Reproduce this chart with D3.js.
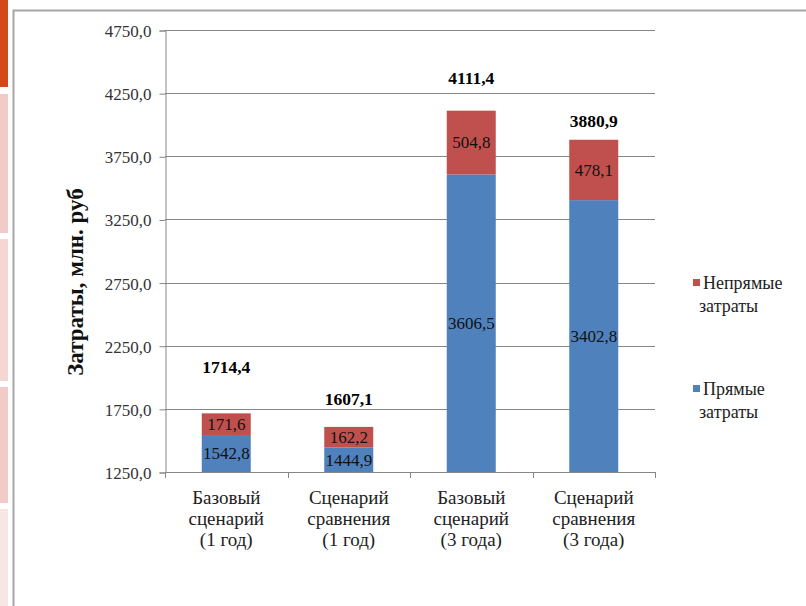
<!DOCTYPE html>
<html><head><meta charset="utf-8">
<script src="https://cdn.jsdelivr.net/npm/d3@7"></script>
<style>
html,body{margin:0;padding:0;background:#fff;}
svg{display:block;}
</style></head>
<body>
<svg id="chart" width="806" height="606"></svg>
<script>
// ---- data ----
const categories = [
  ["Базовый", "сценарий", "(1 год)"],
  ["Сценарий", "сравнения", "(1 год)"],
  ["Базовый", "сценарий", "(3 года)"],
  ["Сценарий", "сравнения", "(3 года)"]
];
const directCosts = [1542.8, 1444.9, 3606.5, 3402.8];
const indirectCosts = [171.6, 162.2, 504.8, 478.1];
const totals = [1714.4, 1607.1, 4111.4, 3880.9];
const yTicks = [1250, 1750, 2250, 2750, 3250, 3750, 4250, 4750];
const seriesNames = ["Непрямые затраты", "Прямые затраты"];
const yTitle = "Затраты, млн. руб";

// ---- layout ----
const FONT = "Liberation Serif";
const totalLabelLift = [40, 22, 27, 13];
const colors = {direct: "#4F81BD", indirect: "#C0504D"};
const fmt = v => v.toFixed(1).replace(".", ",");

const svg = d3.select("#chart");

// decorative slide elements
const deco = [
  {y0: 0, y1: 87, c: "#D4491A"},
  {y0: 94, y1: 233, c: "#F2CBC8"},
  {y0: 239, y1: 381, c: "#F4D6D3"},
  {y0: 387, y1: 503, c: "#F2CBC8"},
  {y0: 509, y1: 606, c: "#F8E6E4"}
];
svg.selectAll("rect.deco").data(deco).enter().append("rect")
  .attr("x", 0).attr("width", 8).attr("y", d => d.y0).attr("height", d => d.y1 - d.y0)
  .attr("fill", d => d.c);
svg.append("path").attr("d", "M13.5,606 V10.5 H806")
  .attr("fill", "none").attr("stroke", "#A6A6A6").attr("stroke-width", 2);

const x = d3.scaleBand().domain(d3.range(categories.length))
  .range([165, 655]).paddingInner(0.6).paddingOuter(0.3);
const y = d3.scaleLinear().domain([1250, 4750]).range([472, 30]);

// gridlines
svg.append("g").selectAll("line").data(yTicks.slice(1)).enter().append("line")
  .attr("x1", 165).attr("x2", 655)
  .attr("y1", d => Math.round(y(d)) + 0.5).attr("y2", d => Math.round(y(d)) + 0.5)
  .attr("stroke", "#868686").attr("stroke-width", 1);

// y axis
const yAxis = svg.append("g").attr("transform", "translate(165.5,0.5)")
  .call(d3.axisLeft(y).tickValues(yTicks).tickFormat(fmt).tickSize(6).tickPadding(8));
yAxis.attr("font-family", null);
yAxis.select(".domain").attr("stroke", "#868686");
yAxis.selectAll(".tick line").attr("stroke", "#868686");
yAxis.selectAll(".tick text")
  .attr("font-size", 17).attr("fill", "#333").attr("dy", "0.35em");

// bars
const stack = categories.map((c, i) => ({i, direct: directCosts[i], indirect: indirectCosts[i]}));
const g = svg.append("g");
g.selectAll("rect.direct").data(stack).enter().append("rect")
  .attr("x", d => x(d.i)).attr("width", x.bandwidth())
  .attr("y", d => y(d.direct)).attr("height", d => y(y.domain()[0]) - y(d.direct))
  .attr("fill", colors.direct);
g.selectAll("rect.indirect").data(stack).enter().append("rect")
  .attr("x", d => x(d.i)).attr("width", x.bandwidth())
  .attr("y", d => y(d.direct + d.indirect)).attr("height", d => y(d.direct) - y(d.direct + d.indirect))
  .attr("fill", colors.indirect);

// segment labels
g.selectAll("text.dl").data(stack).enter().append("text")
  .attr("x", d => x(d.i) + x.bandwidth() / 2)
  .attr("y", d => (y(d.direct) + y(y.domain()[0])) / 2)
  .attr("dy", "0.35em").attr("text-anchor", "middle").attr("font-size", 17).attr("fill", "#111")
  .text(d => fmt(d.direct));
g.selectAll("text.il").data(stack).enter().append("text")
  .attr("x", d => x(d.i) + x.bandwidth() / 2)
  .attr("y", d => (y(d.direct) + y(d.direct + d.indirect)) / 2)
  .attr("dy", "0.35em").attr("text-anchor", "middle").attr("font-size", 17).attr("fill", "#111")
  .text(d => fmt(d.indirect));

// totals
g.selectAll("text.tot").data(totals).enter().append("text")
  .attr("x", (d, i) => x(i) + x.bandwidth() / 2)
  .attr("y", (d, i) => y(d) - totalLabelLift[i])
  .attr("text-anchor", "middle").attr("font-size", 17.5).attr("font-weight", "bold").attr("fill", "#000")
  .text(d => fmt(d));

// x axis
svg.append("line").attr("x1", 165).attr("x2", 655).attr("y1", 472.5).attr("y2", 472.5)
  .attr("stroke", "#868686");
svg.append("g").selectAll("line").data(d3.range(categories.length + 1)).enter().append("line")
  .attr("x1", i => Math.round(165 + i * x.step()) + 0.5).attr("x2", i => Math.round(165 + i * x.step()) + 0.5)
  .attr("y1", 472).attr("y2", 478).attr("stroke", "#868686");
const cl = svg.append("g").selectAll("text").data(categories).enter().append("text")
  .attr("x", (d, i) => x(i) + x.bandwidth() / 2).attr("y", 504)
  .attr("text-anchor", "middle").attr("font-size", 19).attr("fill", "#222");
cl.selectAll("tspan").data(d => d).enter().append("tspan")
  .attr("x", function () { return this.parentNode.getAttribute("x"); })
  .attr("dy", (d, j) => j === 0 ? 0 : 21).text(d => d);

// y title
svg.append("text").attr("transform", "translate(83,282) rotate(-90)")
  .attr("text-anchor", "middle").attr("font-size", 23).attr("font-weight", "bold").attr("fill", "#111")
  .text(yTitle);

// legend
const legend = [
  {name: seriesNames[0], c: colors.indirect, y: 283},
  {name: seriesNames[1], c: colors.direct, y: 389}
];
const lg = svg.append("g").selectAll("g").data(legend).enter().append("g");
lg.append("rect").attr("x", 693).attr("y", d => d.y - 4).attr("width", 7).attr("height", 7).attr("fill", d => d.c);
const lt = lg.append("text").attr("x", 703).attr("y", d => d.y + 6).attr("font-size", 18).attr("fill", "#222");
lt.selectAll("tspan").data(d => d.name.split(" ")).enter().append("tspan")
  .attr("x", (d, j) => j === 0 ? 703 : 699).attr("dy", (d, j) => j === 0 ? 0 : 23).text(d => d);

svg.selectAll("text").attr("font-family", FONT).style("font-family", FONT);
</script>
</body></html>
